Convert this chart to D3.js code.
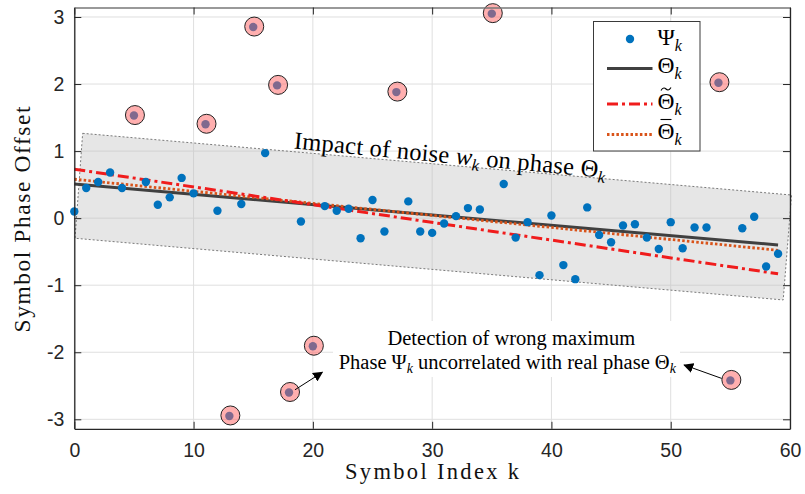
<!DOCTYPE html>
<html><head><meta charset="utf-8">
<script src="https://cdn.jsdelivr.net/npm/d3@7"></script>
<style>body{margin:0;background:#fff} svg{display:block}</style>
</head><body><svg id="chart" width="805" height="494"></svg>
<script>
// ---- data ----
const symbolIndex = [0,1,2,3,4,5,6,7,8,9,10,11,12,13,14,15,16,17,18,19,20,21,22,23,24,25,26,27,28,29,30,31,32,33,34,35,36,37,38,39,40,41,42,43,44,45,46,47,48,49,50,51,52,53,54,55,56,57,58,59];
const psi = [0.10,0.45,0.54,0.68,0.45,1.53,0.54,0.20,0.31,0.60,
             0.37,1.40,0.11,-2.95,0.21,2.85,0.97,1.98,-2.60,-0.05,
             -1.91,0.18,0.11,0.14,-0.30,0.27,-0.20,1.88,0.25,-0.20,
             -0.22,-0.08,0.03,0.15,0.13,3.05,0.51,-0.29,-0.06,-0.85,
             0.04,-0.70,-0.91,0.16,-0.25,-0.36,-0.11,-0.09,-0.29,-0.46,
             -0.06,-0.45,-0.14,-0.14,2.02,-2.42,-0.15,0.02,-0.72,-0.53];
const outlierIndex = [5,11,13,15,17,18,20,27,35,54,55];
const fitK = [0, 59];
const thetaTrue  = [0.51, -0.40];
const thetaTilde = [0.73, -0.83];
const thetaBar   = [0.58, -0.48];
const bandK = [0.70, 60.13, 59.43, 0.06];
const bandY = [1.265, 0.345, -1.22, -0.30];
const xTicks = [0,10,20,30,40,50,60];
const yTicks = [-3,-2,-1,0,1,2,3];
const xTickLabels = ["0","10","20","30","40","50","60"];
const yTickLabels = ["-3","-2","-1","0","1","2","3"];
const arrowFromK = [18.5, 54.27], arrowFromY = [-2.56, -2.39];
const arrowToK = [20.79, 51.13],  arrowToY = [-2.30, -2.19];

// ---- setup ----
const svg = d3.select("#chart");
const x = d3.scaleLinear().domain([0, 60]).range([74.3, 790]);
const y = d3.scaleLinear().domain([-Math.PI, Math.PI]).range([428.8, 7.5]);
const axisColor = "#262626";
const serif = "'Liberation Serif','Times New Roman',serif";
const sans = "'Liberation Sans',Arial,Helvetica,sans-serif";

const defs = svg.append("defs");
defs.append("marker").attr("id","arrow").attr("viewBox","0 0 10 10")
  .attr("refX",9).attr("refY",5).attr("markerWidth",10).attr("markerHeight",10)
  .attr("markerUnits","userSpaceOnUse").attr("orient","auto")
  .append("path").attr("d","M0,0 L10,5 L0,10 Z").attr("fill","#000");

// grid
const grid = svg.append("g");
grid.selectAll(".gx").data(xTicks).join("line")
  .attr("x1", d => x(d)).attr("x2", d => x(d))
  .attr("y1", y(-Math.PI)).attr("y2", y(Math.PI))
  .attr("stroke", "#dfdfdf").attr("stroke-width", 1);
grid.selectAll(".gy").data(yTicks).join("line")
  .attr("x1", x(0)).attr("x2", x(60))
  .attr("y1", d => y(d)).attr("y2", d => y(d))
  .attr("stroke", "#dfdfdf").attr("stroke-width", 1);

// noise band
const bandPts = bandK.map((k, i) => [x(k), y(bandY[i])]);
svg.append("path")
  .attr("d", d3.line()(bandPts) + "Z")
  .attr("fill", "#bdbdbd").attr("fill-opacity", 0.38)
  .attr("stroke", "#7a7a7a").attr("stroke-width", 1)
  .attr("stroke-dasharray", "2,2");

// band label
const bl = svg.append("text")
  .attr("transform", `translate(293.5,148.5) rotate(5.4)`)
  .attr("font-family", serif).attr("font-size", 24.5).attr("fill", "#000")
  .attr("textLength", 313).attr("lengthAdjust", "spacing");
bl.append("tspan").text("Impact of noise ");
bl.append("tspan").attr("font-style","italic").text("w");
bl.append("tspan").attr("font-style","italic").attr("font-size",16.5).attr("dy",5).text("k");
bl.append("tspan").attr("dy",-5).text(" on phase Θ");
bl.append("tspan").attr("font-style","italic").attr("font-size",16.5).attr("dy",5).text("k");

// fit lines
const lineGen = d3.line().x(d => x(d[0])).y(d => y(d[1]));
const series = [
  {vals: thetaTrue,  color: "#404040", width: 3,   dash: null},
  {vals: thetaBar,   color: "#D95319", width: 2.8, dash: "2.5,2.2"},
  {vals: thetaTilde, color: "#f01c1c", width: 3,   dash: "11,4,3,4"}
];
svg.selectAll(".fit").data(series).join("path")
  .attr("d", s => lineGen(fitK.map((k, i) => [k, s.vals[i]])))
  .attr("fill", "none").attr("stroke", s => s.color)
  .attr("stroke-width", s => s.width)
  .attr("stroke-dasharray", s => s.dash);

// points
svg.selectAll(".pt").data(psi).join("circle")
  .attr("cx", (d, i) => x(symbolIndex[i])).attr("cy", d => y(d))
  .attr("r", 4.2).attr("fill", "#0072BD");

// outlier circles
svg.selectAll(".out").data(outlierIndex).join("circle")
  .attr("cx", i => x(symbolIndex[i]) + 1).attr("cy", i => y(psi[i]) - 0.5)
  .attr("r", 9.5).attr("fill", "rgb(255,96,96)").attr("fill-opacity", 0.5)
  .attr("stroke", "#222").attr("stroke-width", 1);

// annotation
const ann = svg.append("g");
ann.append("rect").attr("x", 333).attr("y", 321).attr("width", 347).attr("height", 56)
  .attr("fill", "#fff");
const cx = x(36.3);
ann.append("text").attr("x", cx + 4).attr("y", 344.5).attr("text-anchor","middle")
  .attr("font-family", serif).attr("font-size", 20.5).text("Detection of wrong maximum");
const a2 = ann.append("text").attr("x", cx).attr("y", 368.5).attr("text-anchor","middle")
  .attr("font-family", serif).attr("font-size", 20.5);
a2.append("tspan").text("Phase Ψ");
a2.append("tspan").attr("font-style","italic").attr("font-size",14).attr("dy",4).text("k");
a2.append("tspan").attr("dy",-4).text(" uncorrelated with real phase Θ");
a2.append("tspan").attr("font-style","italic").attr("font-size",14).attr("dy",4).text("k");

// arrows
svg.selectAll(".arr").data(arrowFromK).join("line")
  .attr("x1", (d, i) => x(d)).attr("y1", (d, i) => y(arrowFromY[i]))
  .attr("x2", (d, i) => x(arrowToK[i])).attr("y2", (d, i) => y(arrowToY[i]))
  .attr("stroke", "#000").attr("stroke-width", 1)
  .attr("marker-end", "url(#arrow)");

// axes
const gB = svg.append("g").attr("transform", `translate(0,${y(-Math.PI)})`)
  .call(d3.axisBottom(x).tickValues(xTicks).tickFormat((d,i) => xTickLabels[i])
        .tickSizeInner(-7).tickSizeOuter(0).tickPadding(14));
const gL = svg.append("g").attr("transform", `translate(${x(0)},0)`)
  .call(d3.axisLeft(y).tickValues(yTicks).tickFormat((d,i) => yTickLabels[i])
        .tickSizeInner(-7).tickSizeOuter(0).tickPadding(10));
const gT = svg.append("g").attr("transform", `translate(0,${y(Math.PI)})`)
  .call(d3.axisTop(x).tickValues(xTicks).tickFormat("")
        .tickSizeInner(-7).tickSizeOuter(0));
const gR = svg.append("g").attr("transform", `translate(${x(60)},0)`)
  .call(d3.axisRight(y).tickValues(yTicks).tickFormat("")
        .tickSizeInner(-7).tickSizeOuter(0));
[gB, gL, gT, gR].forEach(g => {
  g.select(".domain").attr("stroke", axisColor).attr("stroke-width", 1.3);
  g.selectAll(".tick line").attr("stroke", axisColor).attr("stroke-width", 1);
  g.selectAll(".tick text").attr("fill", axisColor)
    .attr("font-family", sans).attr("font-size", 19.5);
});
gT.select(".domain").attr("stroke", "#777").attr("stroke-width", 1.6);

// axis labels
svg.append("text").attr("x", 432).attr("y", 479).attr("text-anchor","middle")
  .attr("font-family", serif).attr("font-size", 22.5).attr("fill","#111")
  .attr("textLength", 174).attr("lengthAdjust", "spacing").text("Symbol Index k");
svg.append("text").attr("transform", `translate(30,219.5) rotate(-90)`)
  .attr("text-anchor","middle")
  .attr("font-family", serif).attr("font-size", 23.5).attr("fill","#111")
  .attr("textLength", 226).attr("lengthAdjust", "spacing").text("Symbol Phase Offset");

// legend
const lg = svg.append("g");
lg.append("rect").attr("x", 593.5).attr("y", 21.5).attr("width", 106.5).attr("height", 129.5)
  .attr("fill", "#fff").attr("stroke", "#3a3a3a").attr("stroke-width", 1);
const legendItems = [
  {sym: "Ψ", accent: null,    type: "dot", y: 39,  ty: 44.5},
  {sym: "Θ", accent: null,    type: "line", s: series[0], y: 68.5, ty: 72.5},
  {sym: "Θ", accent: "tilde", type: "line", s: series[2], y: 104, ty: 109},
  {sym: "Θ", accent: "bar",   type: "line", s: series[1], y: 134.5, ty: 139}
];
legendItems.forEach(it => {
  if (it.type === "dot") {
    lg.append("circle").attr("cx", 630).attr("cy", it.y).attr("r", 4.2).attr("fill", "#0072BD");
  } else {
    lg.append("line").attr("x1", 607).attr("x2", 652.5).attr("y1", it.y).attr("y2", it.y)
      .attr("stroke", it.s.color).attr("stroke-width", it.s.width)
      .attr("stroke-dasharray", it.s.dash);
  }
  const t = lg.append("text").attr("x", 657.5).attr("y", it.ty)
    .attr("font-family", serif).attr("font-size", 23.5).attr("fill", "#000");
  t.append("tspan").text(it.sym);
  t.append("tspan").attr("font-style","italic").attr("font-size",16).attr("dy",6).text("k");
  const w = t.node().getSubStringLength(0, 1);
  const mid = 657.5 + w / 2;
  if (it.accent === "bar") {
    lg.append("line").attr("x1", mid - 5.5).attr("x2", mid + 5.5)
      .attr("y1", it.ty - 19.5).attr("y2", it.ty - 19.5)
      .attr("stroke", "#000").attr("stroke-width", 1.1);
  } else if (it.accent === "tilde") {
    lg.append("path")
      .attr("d", `M${mid-5},${it.ty-18.5} C${mid-3},${it.ty-22} ${mid-1},${it.ty-21} ${mid},${it.ty-20} S${mid+3},${it.ty-18} ${mid+5},${it.ty-21.5}`)
      .attr("fill", "none").attr("stroke", "#000").attr("stroke-width", 1.1);
  }
});
</script>
</body></html>
